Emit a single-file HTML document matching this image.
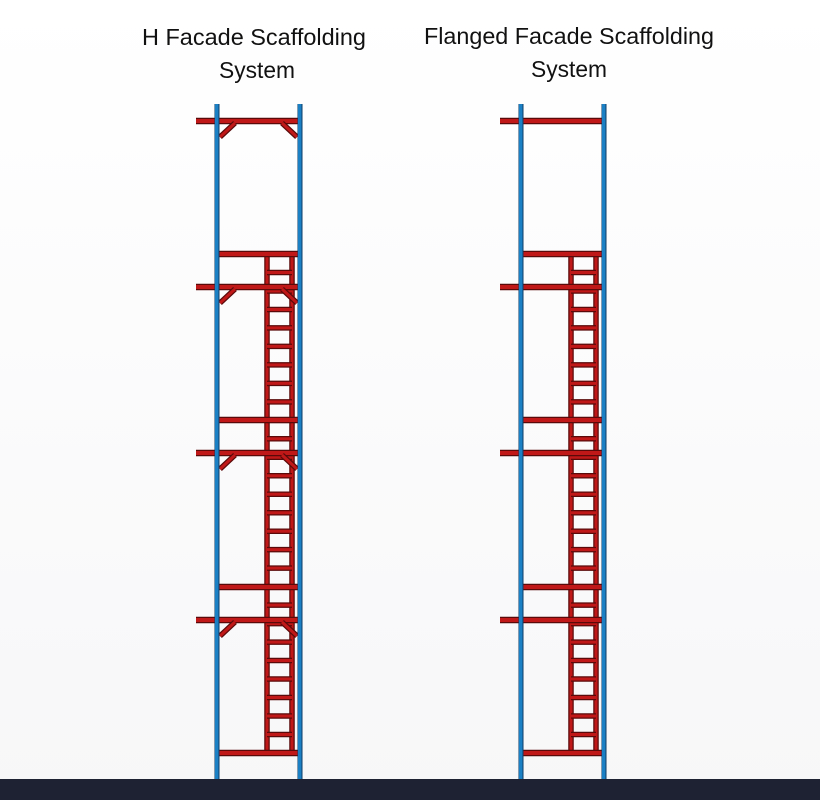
<!DOCTYPE html>
<html><head><meta charset="utf-8"><style>
html,body{margin:0;padding:0;background:#fff;}
svg{display:block;}
text{font-family:"Liberation Sans",sans-serif;font-size:23px;fill:#111;}
</style></head><body>
<svg id="s" width="820" height="800" viewBox="0 0 820 800" xmlns="http://www.w3.org/2000/svg">
<defs>
<linearGradient id="bg" x1="0" y1="0" x2="0" y2="1"><stop offset="0" stop-color="#ffffff"/><stop offset="1" stop-color="#f7f7f8"/></linearGradient>
</defs>
<rect width="820" height="800" fill="url(#bg)"/>
<text x="254" y="45" text-anchor="middle" textLength="224" lengthAdjust="spacingAndGlyphs">H Facade Scaffolding</text>
<text x="257" y="78" text-anchor="middle" textLength="76" lengthAdjust="spacingAndGlyphs">System</text>
<text x="569" y="44" text-anchor="middle" textLength="290" lengthAdjust="spacingAndGlyphs">Flanged Facade Scaffolding</text>
<text x="569" y="77" text-anchor="middle" textLength="76" lengthAdjust="spacingAndGlyphs">System</text>
<g id="g"></g>
<rect x="0" y="779" width="820" height="21" fill="#1e2233"/>
</svg>
<script>
var g=document.getElementById('g'),h='';
function red(x1,y1,x2,y2,w){w=w||4;h+='<line x1="'+x1+'" y1="'+y1+'" x2="'+x2+'" y2="'+y2+'" stroke="#5a0a0a" stroke-width="'+(w+1.5)+'"/><line x1="'+x1+'" y1="'+y1+'" x2="'+x2+'" y2="'+y2+'" stroke="#c01818" stroke-width="'+(w-1)+'"/>';}
function post(x){h+='<rect x="'+(x-2.5)+'" y="104" width="5" height="675" fill="#0f3d66"/><rect x="'+(x-2)+'" y="104" width="3.5" height="675" fill="#1b80c4"/>';}
function frame(L,R,braces){
 var trans=[121,287,453,620],plat=[254,420,587,753];
 var lx=L+50,rx=R-8;
 // ladder
 red(lx,254,lx,753,4);red(rx,254,rx,753,4);
 for(var k=0;k<27;k++){var y=254+k*18.48;if(y>753)break;red(lx,y,rx,y,4);}
 plat.forEach(function(y){red(L,y,R,y,5);});
 trans.forEach(function(y){red(L-21,y,R,y,5);if(braces){red(L+3,y+16,L+18,y+2,4);red(R-3,y+16,R-18,y+2,4);}});
 post(L);post(R);
}
frame(217,300,true);
frame(521,604,false);
g.innerHTML=h;
</script>
</body></html>
